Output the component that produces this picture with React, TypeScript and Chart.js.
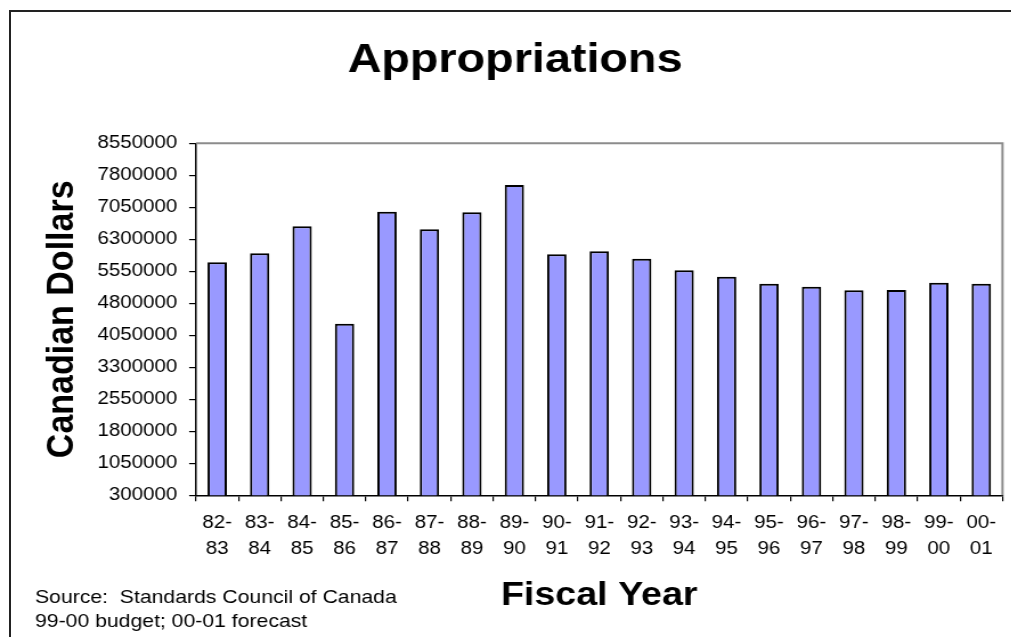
import React, { useEffect, useRef } from 'react';
import { Chart, registerables } from 'chart.js';

Chart.register(...registerables);

const categories: string[][] = [
  ['82-', '83'], ['83-', '84'], ['84-', '85'], ['85-', '86'], ['86-', '87'],
  ['87-', '88'], ['88-', '89'], ['89-', '90'], ['90-', '91'], ['91-', '92'],
  ['92-', '93'], ['93-', '94'], ['94-', '95'], ['95-', '96'], ['96-', '97'],
  ['97-', '98'], ['98-', '99'], ['99-', '00'], ['00-', '01'],
];

const appropriations: number[] = [
  5760000, 5972000, 6605000, 4322000, 6947000, 6534000, 6933000, 7573000,
  5948000, 6019000, 5845000, 5573000, 5423000, 5259000, 5189000, 5105000,
  5112000, 5283000, 5259000,
];

const yMin = 300000;
const yMax = 8550000;
const yStep = 750000;

const titleText = 'Appropriations';
const yTitleText = 'Canadian Dollars';
const xTitleText = 'Fiscal Year';
const sourceLines: string[] = ['Source:  Standards Council of Canada', '99-00 budget; 00-01 forecast'];

const FONT = '"Liberation Sans", Arial, Helvetica, sans-serif';
const STRETCH = 1.14;
const CW = 887;
const CH = 637;

const textPlugin = {
  id: 'extraTexts',
  afterDraw(chart: any) {
    const ctx: CanvasRenderingContext2D = chart.ctx;
    const a = chart.chartArea;
    ctx.save();
    ctx.strokeStyle = '#8c8c8c';
    ctx.lineWidth = 2;
    ctx.beginPath();
    ctx.moveTo(a.left, a.top);
    ctx.lineTo(a.right, a.top);
    ctx.lineTo(a.right, a.bottom);
    ctx.stroke();

    ctx.fillStyle = '#000';
    ctx.textAlign = 'center';
    ctx.textBaseline = 'alphabetic';
    ctx.font = `bold 41px ${FONT}`;
    ctx.fillText(titleText, 451.8, 71.7);

    ctx.font = `bold 33px ${FONT}`;
    ctx.fillText(xTitleText, (a.left + a.right) / 2, 605);

    ctx.textAlign = 'left';
    ctx.font = `18.6px ${FONT}`;
    ctx.fillText(sourceLines[0], 30.7, 603.3);
    ctx.fillText(sourceLines[1], 30.7, 626.7);

    ctx.translate(63.5, (a.top + a.bottom) / 2);
    ctx.rotate(-Math.PI / 2);
    ctx.textAlign = 'center';
    ctx.font = `bold 34px ${FONT}`;
    ctx.fillText(yTitleText, 0, 0);
    ctx.restore();
  },
};

export default function App() {
  const ref = useRef<HTMLCanvasElement | null>(null);

  useEffect(() => {
    if (!ref.current) return;
    const chart = new Chart(ref.current, {
      type: 'bar',
      data: {
        labels: categories,
        datasets: [
          {
            data: appropriations,
            backgroundColor: '#9999ff',
            borderColor: '#000000',
            borderWidth: 2,
            categoryPercentage: 0.455,
            barPercentage: 1,
          },
        ],
      },
      options: {
        responsive: false,
        animation: false,
        devicePixelRatio: 1,
        layout: { padding: { left: 0, right: 7.6, top: 143.3, bottom: 0 } },
        plugins: {
          legend: { display: false },
          tooltip: { enabled: false },
          title: { display: false },
        },
        scales: {
          x: {
            type: 'category',
            offset: true,
            grid: {
              offset: true,
              drawOnChartArea: false,
              drawTicks: true,
              tickLength: 6,
              color: '#000',
              lineWidth: 1.2,
            },
            border: { display: true, color: '#000', width: 1.5 },
            ticks: {
              color: '#000',
              font: { family: FONT, size: 18, lineHeight: 1.43 },
              padding: 9,
              maxRotation: 0,
              minRotation: 0,
              autoSkip: false,
            },
            afterFit: (s: any) => {
              s.height = CH - 495.3;
            },
          },
          y: {
            min: yMin,
            max: yMax,
            grid: {
              drawOnChartArea: false,
              drawTicks: true,
              tickLength: 6,
              color: '#000',
              lineWidth: 1.2,
            },
            border: { display: true, color: '#000', width: 1.5 },
            ticks: {
              stepSize: yStep,
              color: '#000',
              font: { family: FONT, size: 18 },
              padding: 10.4,
              callback: (v: any) => String(v),
            },
            afterFit: (s: any) => {
              s.width = 171.9;
            },
          },
        },
      },
      plugins: [textPlugin],
    });
    return () => chart.destroy();
  }, []);

  return (
    <div
      style={{
        position: 'fixed',
        left: 0,
        top: 0,
        width: 1011,
        height: 637,
        overflow: 'hidden',
        background: '#fff',
      }}
    >
      <div
        style={{
          position: 'absolute',
          left: 9,
          top: 10,
          width: 1200,
          height: 1000,
          borderLeft: '2px solid #222',
          borderTop: '2px solid #222',
        }}
      />
      <canvas
        ref={ref}
        width={CW}
        height={CH}
        style={{
          position: 'absolute',
          left: 0,
          top: 0,
          width: CW,
          height: CH,
          transform: `scaleX(${STRETCH})`,
          transformOrigin: '0 0',
        }}
      />
    </div>
  );
}
